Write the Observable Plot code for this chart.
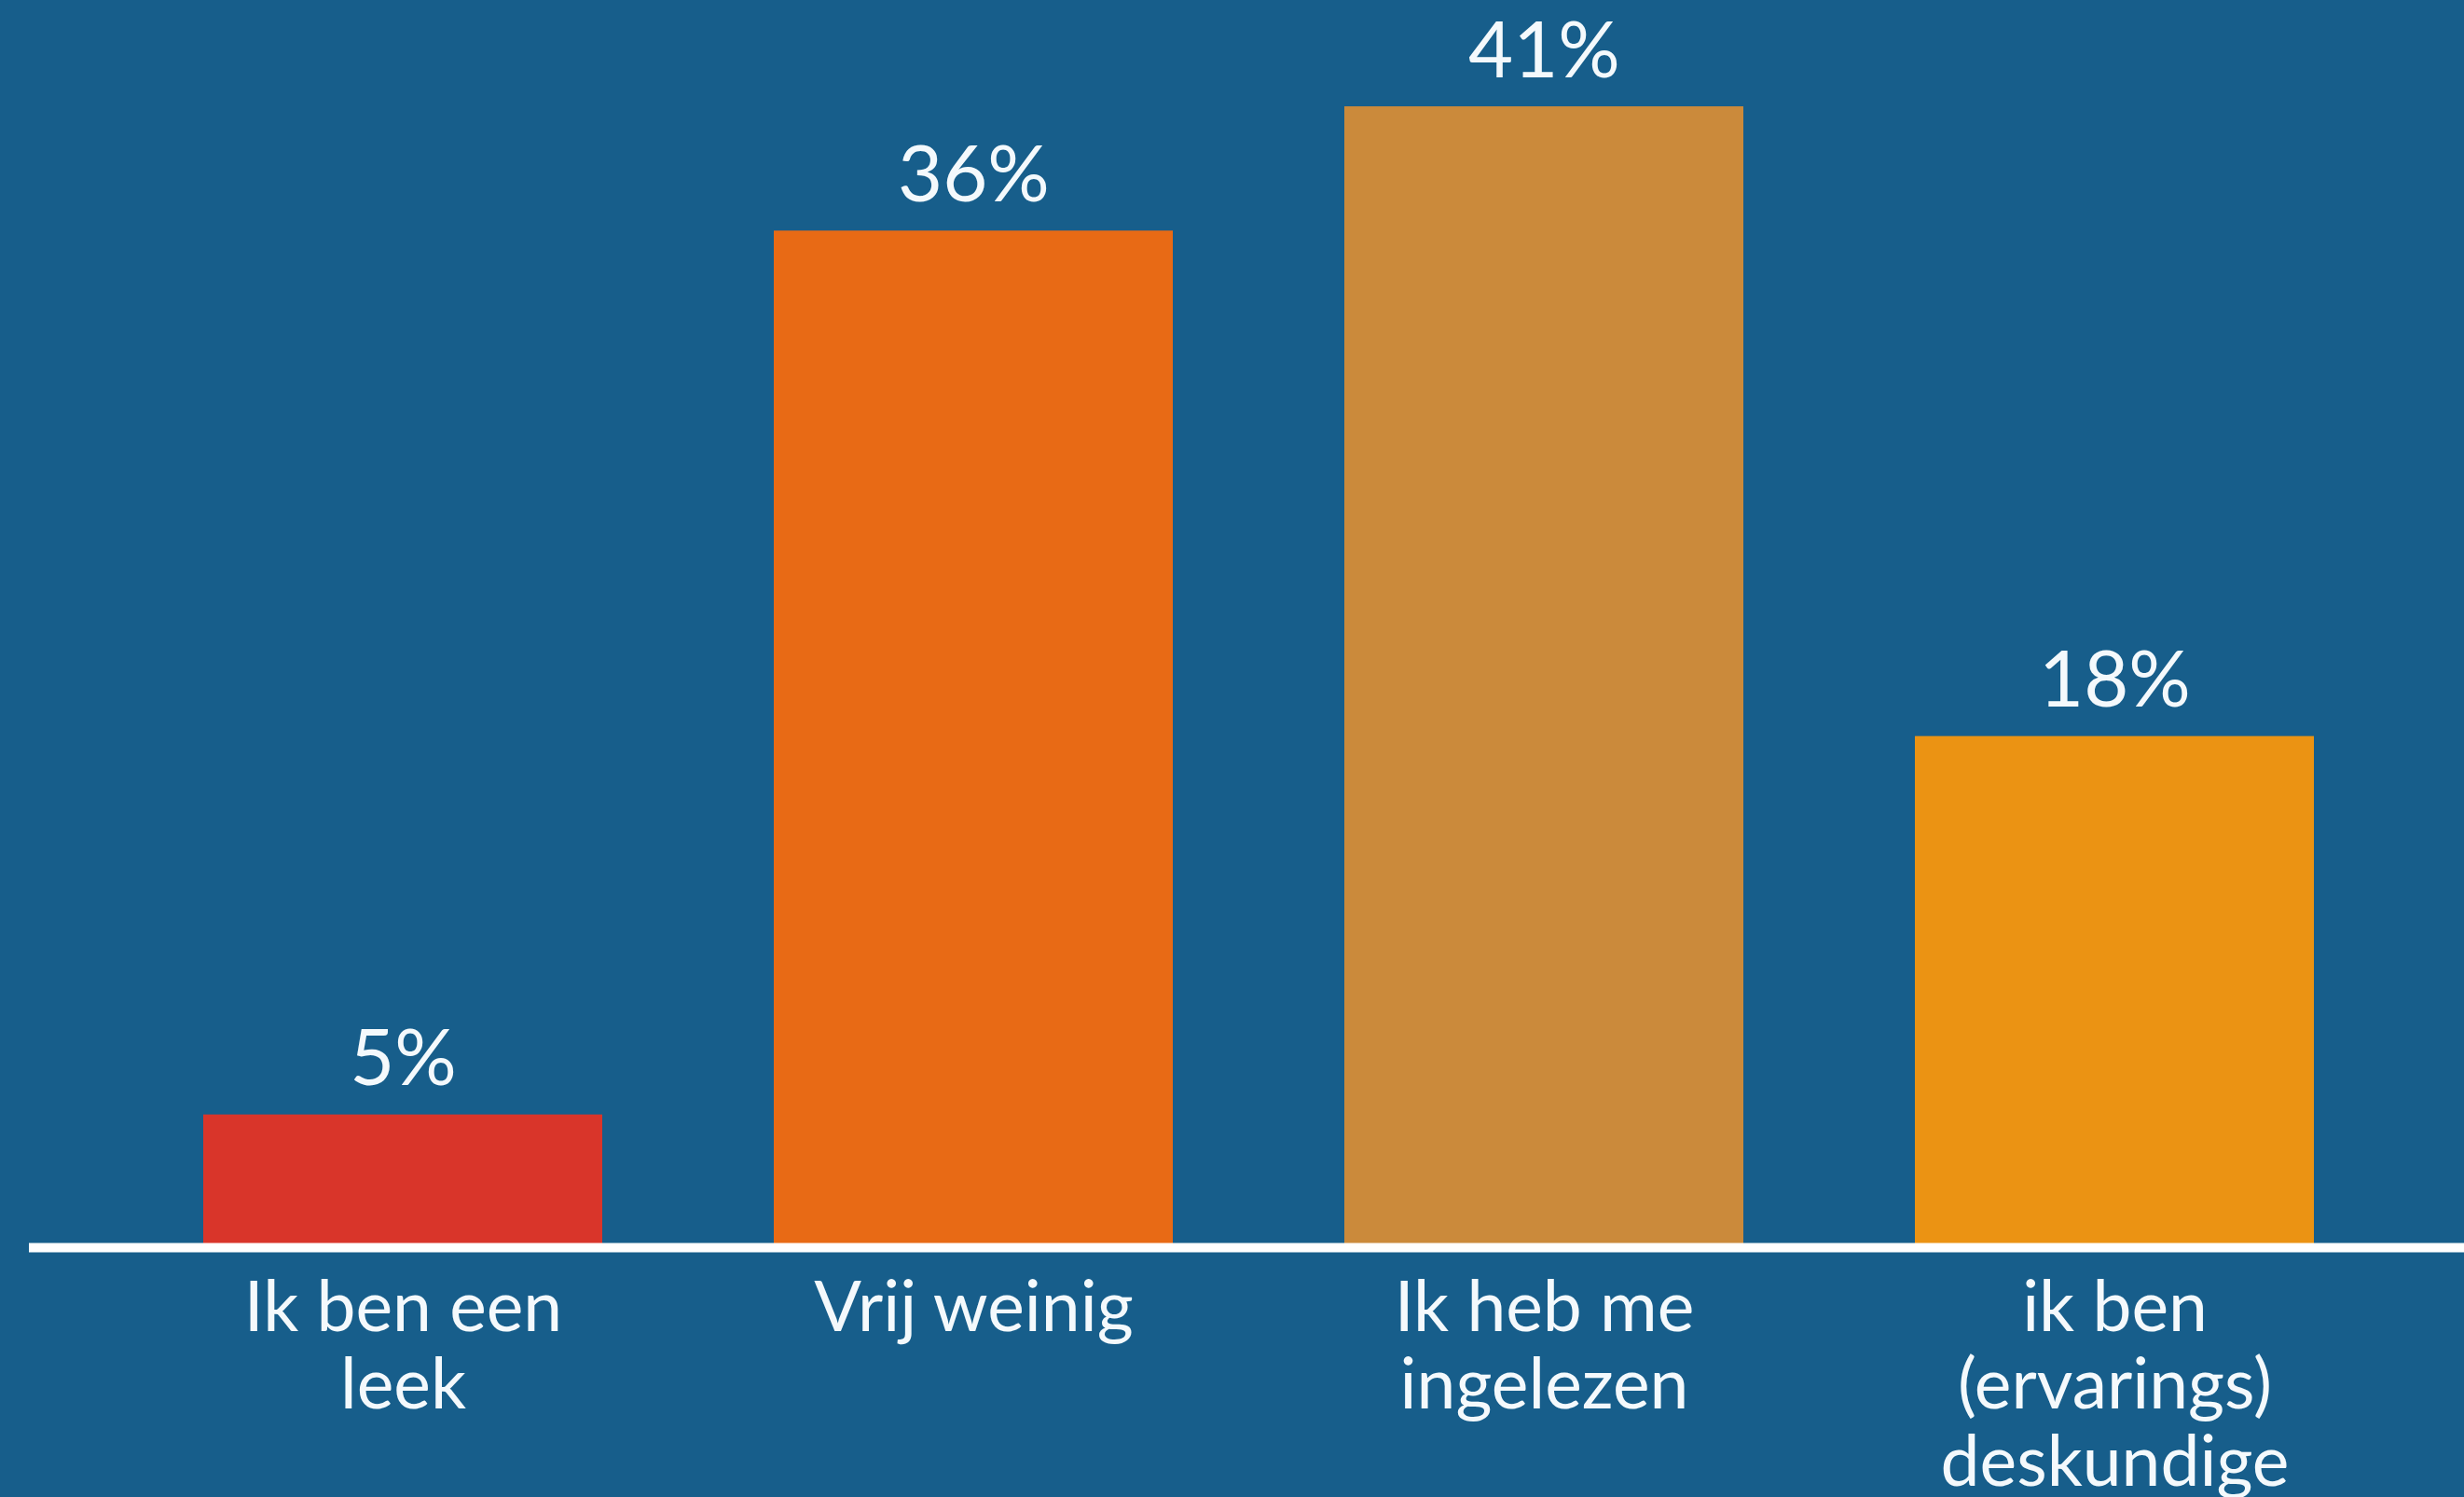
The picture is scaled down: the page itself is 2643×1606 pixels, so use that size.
<!DOCTYPE html>
<html>
<head>
<meta charset="utf-8">
<script src="https://cdn.jsdelivr.net/npm/d3@7"></script>
<script src="https://cdn.jsdelivr.net/npm/@observablehq/plot@0.6"></script>
<style>
  html, body { margin: 0; padding: 0; background: #175e8b; overflow: hidden; }
  #chart svg { display: block; }
</style>
</head>
<body>
<div id="chart"></div>
<script>
// Data
const categories = ["Ik ben een\nleek", "Vrij weinig", "Ik heb me\ningelezen", "ik ben\n(ervarings)\ndeskundige"];
const values = [4.7, 36.0, 40.4, 18.1];          // bar heights (%)
const valueLabels = ["5%", "36%", "41%", "18%"];  // printed labels
const colors = ["#d9352a", "#e86a15", "#cb8a3b", "#eb9313"];

const data = categories.map((c, i) => ({category: c, value: values[i], label: valueLabels[i], color: colors[i]}));

const chart = Plot.plot({
  width: 2643,
  height: 1606,
  marginTop: 5,
  marginBottom: 268,
  marginLeft: 31,
  marginRight: 0,
  style: {background: "#175e8b", fontFamily: "Lato, sans-serif", color: "#f4f9fc"},
  x: {domain: categories, range: [33, 2668], paddingInner: 0.3, paddingOuter: 0.3, axis: null},
  y: {domain: [0, 44], axis: null},
  marks: [
    Plot.barY(data, {x: "category", y: "value", fill: "color"}),
    Plot.ruleY([0], {stroke: "#ffffff", strokeWidth: 10}),
    Plot.text(data, {x: "category", y: "value", text: "label", dy: -32, lineAnchor: "bottom",
      fontSize: 83, fill: "#f4f9fc", textAnchor: "middle"}),
    Plot.text(data, {x: "category", y: 0, text: "category", dy: 31, lineAnchor: "top",
      lineHeight: 1.107, fontSize: 75, fill: "#f4f9fc", textAnchor: "middle"})
  ]
});
document.getElementById("chart").appendChild(chart);
</script>
</body>
</html>
